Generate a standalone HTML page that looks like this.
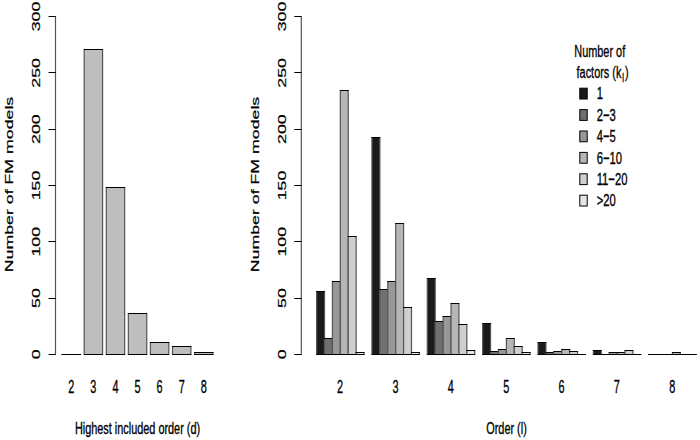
<!DOCTYPE html>
<html><head><meta charset="utf-8"><style>
html,body{margin:0;padding:0;background:#fff;}
svg{display:block;}
text{font-family:"Liberation Sans",sans-serif;fill:#000;stroke:#000;stroke-width:0.35px;}
</style></head><body>
<svg width="700" height="440" viewBox="0 0 700 440">
<rect x="0" y="0" width="700" height="440" fill="#fff"/>
<path d="M55.5 16.5V354.5" stroke="#555" stroke-width="1.2" fill="none"/>
<path d="M48.5 354.50H55.8" stroke="#000" stroke-width="1" fill="none"/>
<text class="r" transform="translate(39.70,354.40) rotate(-90) scale(1,0.59)" text-anchor="middle" font-size="17.75">0</text>
<path d="M48.5 298.50H55.8" stroke="#000" stroke-width="1" fill="none"/>
<text class="r" transform="translate(39.70,298.08) rotate(-90) scale(1,0.59)" text-anchor="middle" font-size="17.75">50</text>
<path d="M48.5 241.50H55.8" stroke="#000" stroke-width="1" fill="none"/>
<text class="r" transform="translate(39.70,241.77) rotate(-90) scale(1,0.59)" text-anchor="middle" font-size="17.75">100</text>
<path d="M48.5 185.50H55.8" stroke="#000" stroke-width="1" fill="none"/>
<text class="r" transform="translate(39.70,185.45) rotate(-90) scale(1,0.59)" text-anchor="middle" font-size="17.75">150</text>
<path d="M48.5 129.50H55.8" stroke="#000" stroke-width="1" fill="none"/>
<text class="r" transform="translate(39.70,129.13) rotate(-90) scale(1,0.59)" text-anchor="middle" font-size="17.75">200</text>
<path d="M48.5 72.50H55.8" stroke="#000" stroke-width="1" fill="none"/>
<text class="r" transform="translate(39.70,72.82) rotate(-90) scale(1,0.59)" text-anchor="middle" font-size="17.75">250</text>
<path d="M48.5 16.50H55.8" stroke="#000" stroke-width="1" fill="none"/>
<text class="r" transform="translate(39.70,16.50) rotate(-90) scale(1,0.59)" text-anchor="middle" font-size="17.75">300</text>
<text class="r" transform="translate(13.20,184.5) rotate(-90) scale(1,0.59)" text-anchor="middle" font-size="17.75">Number of FM models</text>
<path d="M301.3 16.5V354.5" stroke="#555" stroke-width="1.2" fill="none"/>
<path d="M294.3 354.50H301.6" stroke="#000" stroke-width="1" fill="none"/>
<text class="r" transform="translate(285.50,354.40) rotate(-90) scale(1,0.59)" text-anchor="middle" font-size="17.75">0</text>
<path d="M294.3 298.50H301.6" stroke="#000" stroke-width="1" fill="none"/>
<text class="r" transform="translate(285.50,298.08) rotate(-90) scale(1,0.59)" text-anchor="middle" font-size="17.75">50</text>
<path d="M294.3 241.50H301.6" stroke="#000" stroke-width="1" fill="none"/>
<text class="r" transform="translate(285.50,241.77) rotate(-90) scale(1,0.59)" text-anchor="middle" font-size="17.75">100</text>
<path d="M294.3 185.50H301.6" stroke="#000" stroke-width="1" fill="none"/>
<text class="r" transform="translate(285.50,185.45) rotate(-90) scale(1,0.59)" text-anchor="middle" font-size="17.75">150</text>
<path d="M294.3 129.50H301.6" stroke="#000" stroke-width="1" fill="none"/>
<text class="r" transform="translate(285.50,129.13) rotate(-90) scale(1,0.59)" text-anchor="middle" font-size="17.75">200</text>
<path d="M294.3 72.50H301.6" stroke="#000" stroke-width="1" fill="none"/>
<text class="r" transform="translate(285.50,72.82) rotate(-90) scale(1,0.59)" text-anchor="middle" font-size="17.75">250</text>
<path d="M294.3 16.50H301.6" stroke="#000" stroke-width="1" fill="none"/>
<text class="r" transform="translate(285.50,16.50) rotate(-90) scale(1,0.59)" text-anchor="middle" font-size="17.75">300</text>
<text class="r" transform="translate(259.00,184.5) rotate(-90) scale(1,0.59)" text-anchor="middle" font-size="17.75">Number of FM models</text>
<path d="M61.60 354.50H81.00M61.60 354.50H81.00" stroke="#000" stroke-width="1" fill="none"/>
<text transform="translate(71.30,392.5) scale(0.6193,1)" text-anchor="middle" font-size="17.6">2</text>
<rect x="84.18" y="49.50" width="18.40" height="305.00" fill="#bebebe"/>
<path d="M84.18 49.50V354.50M102.58 49.50V354.50" stroke="#555" stroke-width="1.2" fill="none"/>
<path d="M83.68 49.50H103.08M83.68 354.50H103.08" stroke="#000" stroke-width="1" fill="none"/>
<text transform="translate(93.38,392.5) scale(0.6193,1)" text-anchor="middle" font-size="17.6">3</text>
<rect x="106.26" y="187.50" width="18.40" height="167.00" fill="#bebebe"/>
<path d="M106.26 187.50V354.50M124.66 187.50V354.50" stroke="#555" stroke-width="1.2" fill="none"/>
<path d="M105.76 187.50H125.16M105.76 354.50H125.16" stroke="#000" stroke-width="1" fill="none"/>
<text transform="translate(115.46,392.5) scale(0.6193,1)" text-anchor="middle" font-size="17.6">4</text>
<rect x="128.34" y="313.50" width="18.40" height="41.00" fill="#bebebe"/>
<path d="M128.34 313.50V354.50M146.74 313.50V354.50" stroke="#555" stroke-width="1.2" fill="none"/>
<path d="M127.84 313.50H147.24M127.84 354.50H147.24" stroke="#000" stroke-width="1" fill="none"/>
<text transform="translate(137.54,392.5) scale(0.6193,1)" text-anchor="middle" font-size="17.6">5</text>
<rect x="150.42" y="342.50" width="18.40" height="12.00" fill="#bebebe"/>
<path d="M150.42 342.50V354.50M168.82 342.50V354.50" stroke="#555" stroke-width="1.2" fill="none"/>
<path d="M149.92 342.50H169.32M149.92 354.50H169.32" stroke="#000" stroke-width="1" fill="none"/>
<text transform="translate(159.62,392.5) scale(0.6193,1)" text-anchor="middle" font-size="17.6">6</text>
<rect x="172.50" y="346.50" width="18.40" height="8.00" fill="#bebebe"/>
<path d="M172.50 346.50V354.50M190.90 346.50V354.50" stroke="#555" stroke-width="1.2" fill="none"/>
<path d="M172.00 346.50H191.40M172.00 354.50H191.40" stroke="#000" stroke-width="1" fill="none"/>
<text transform="translate(181.70,392.5) scale(0.6193,1)" text-anchor="middle" font-size="17.6">7</text>
<rect x="194.58" y="352.50" width="18.40" height="2.00" fill="#bebebe"/>
<path d="M194.58 352.50V354.50M212.98 352.50V354.50" stroke="#555" stroke-width="1.2" fill="none"/>
<path d="M194.08 352.50H213.48M194.08 354.50H213.48" stroke="#000" stroke-width="1" fill="none"/>
<text transform="translate(203.78,392.5) scale(0.6193,1)" text-anchor="middle" font-size="17.6">8</text>
<text transform="translate(137.5,434.2) scale(0.63,1)" text-anchor="middle" font-size="17.3">Highest included order (d)</text>
<rect x="316.60" y="291.50" width="7.91" height="63.00" fill="#1a1a1a"/>
<path d="M316.60 291.50V354.50M324.51 291.50V354.50" stroke="#555" stroke-width="1.2" fill="none"/>
<path d="M316.10 291.50H325.01M316.10 354.50H325.01" stroke="#000" stroke-width="1" fill="none"/>
<rect x="324.51" y="338.50" width="7.91" height="16.00" fill="#707070"/>
<path d="M324.51 338.50V354.50M332.42 338.50V354.50" stroke="#555" stroke-width="1.2" fill="none"/>
<path d="M324.01 338.50H332.92M324.01 354.50H332.92" stroke="#000" stroke-width="1" fill="none"/>
<rect x="332.42" y="281.50" width="7.91" height="73.00" fill="#989898"/>
<path d="M332.42 281.50V354.50M340.33 281.50V354.50" stroke="#555" stroke-width="1.2" fill="none"/>
<path d="M331.92 281.50H340.83M331.92 354.50H340.83" stroke="#000" stroke-width="1" fill="none"/>
<rect x="340.33" y="90.50" width="7.91" height="264.00" fill="#b6b6b6"/>
<path d="M340.33 90.50V354.50M348.24 90.50V354.50" stroke="#555" stroke-width="1.2" fill="none"/>
<path d="M339.83 90.50H348.74M339.83 354.50H348.74" stroke="#000" stroke-width="1" fill="none"/>
<rect x="348.24" y="236.50" width="7.91" height="118.00" fill="#cfcfcf"/>
<path d="M348.24 236.50V354.50M356.15 236.50V354.50" stroke="#555" stroke-width="1.2" fill="none"/>
<path d="M347.74 236.50H356.65M347.74 354.50H356.65" stroke="#000" stroke-width="1" fill="none"/>
<rect x="356.15" y="352.50" width="7.91" height="2.00" fill="#e6e6e6"/>
<path d="M356.15 352.50V354.50M364.06 352.50V354.50" stroke="#555" stroke-width="1.2" fill="none"/>
<path d="M355.65 352.50H364.56M355.65 354.50H364.56" stroke="#000" stroke-width="1" fill="none"/>
<text transform="translate(340.13,392.5) scale(0.6193,1)" text-anchor="middle" font-size="17.6">2</text>
<rect x="371.95" y="137.50" width="7.91" height="217.00" fill="#1a1a1a"/>
<path d="M371.95 137.50V354.50M379.86 137.50V354.50" stroke="#555" stroke-width="1.2" fill="none"/>
<path d="M371.45 137.50H380.36M371.45 354.50H380.36" stroke="#000" stroke-width="1" fill="none"/>
<rect x="379.86" y="289.50" width="7.91" height="65.00" fill="#707070"/>
<path d="M379.86 289.50V354.50M387.77 289.50V354.50" stroke="#555" stroke-width="1.2" fill="none"/>
<path d="M379.36 289.50H388.27M379.36 354.50H388.27" stroke="#000" stroke-width="1" fill="none"/>
<rect x="387.77" y="281.50" width="7.91" height="73.00" fill="#989898"/>
<path d="M387.77 281.50V354.50M395.68 281.50V354.50" stroke="#555" stroke-width="1.2" fill="none"/>
<path d="M387.27 281.50H396.18M387.27 354.50H396.18" stroke="#000" stroke-width="1" fill="none"/>
<rect x="395.68" y="223.50" width="7.91" height="131.00" fill="#b6b6b6"/>
<path d="M395.68 223.50V354.50M403.59 223.50V354.50" stroke="#555" stroke-width="1.2" fill="none"/>
<path d="M395.18 223.50H404.09M395.18 354.50H404.09" stroke="#000" stroke-width="1" fill="none"/>
<rect x="403.59" y="307.50" width="7.91" height="47.00" fill="#cfcfcf"/>
<path d="M403.59 307.50V354.50M411.50 307.50V354.50" stroke="#555" stroke-width="1.2" fill="none"/>
<path d="M403.09 307.50H412.00M403.09 354.50H412.00" stroke="#000" stroke-width="1" fill="none"/>
<rect x="411.50" y="352.50" width="7.91" height="2.00" fill="#e6e6e6"/>
<path d="M411.50 352.50V354.50M419.41 352.50V354.50" stroke="#555" stroke-width="1.2" fill="none"/>
<path d="M411.00 352.50H419.91M411.00 354.50H419.91" stroke="#000" stroke-width="1" fill="none"/>
<text transform="translate(395.48,392.5) scale(0.6193,1)" text-anchor="middle" font-size="17.6">3</text>
<rect x="427.30" y="278.50" width="7.91" height="76.00" fill="#1a1a1a"/>
<path d="M427.30 278.50V354.50M435.21 278.50V354.50" stroke="#555" stroke-width="1.2" fill="none"/>
<path d="M426.80 278.50H435.71M426.80 354.50H435.71" stroke="#000" stroke-width="1" fill="none"/>
<rect x="435.21" y="321.50" width="7.91" height="33.00" fill="#707070"/>
<path d="M435.21 321.50V354.50M443.12 321.50V354.50" stroke="#555" stroke-width="1.2" fill="none"/>
<path d="M434.71 321.50H443.62M434.71 354.50H443.62" stroke="#000" stroke-width="1" fill="none"/>
<rect x="443.12" y="316.50" width="7.91" height="38.00" fill="#989898"/>
<path d="M443.12 316.50V354.50M451.03 316.50V354.50" stroke="#555" stroke-width="1.2" fill="none"/>
<path d="M442.62 316.50H451.53M442.62 354.50H451.53" stroke="#000" stroke-width="1" fill="none"/>
<rect x="451.03" y="303.50" width="7.91" height="51.00" fill="#b6b6b6"/>
<path d="M451.03 303.50V354.50M458.94 303.50V354.50" stroke="#555" stroke-width="1.2" fill="none"/>
<path d="M450.53 303.50H459.44M450.53 354.50H459.44" stroke="#000" stroke-width="1" fill="none"/>
<rect x="458.94" y="324.50" width="7.91" height="30.00" fill="#cfcfcf"/>
<path d="M458.94 324.50V354.50M466.85 324.50V354.50" stroke="#555" stroke-width="1.2" fill="none"/>
<path d="M458.44 324.50H467.35M458.44 354.50H467.35" stroke="#000" stroke-width="1" fill="none"/>
<rect x="466.85" y="350.50" width="7.91" height="4.00" fill="#e6e6e6"/>
<path d="M466.85 350.50V354.50M474.76 350.50V354.50" stroke="#555" stroke-width="1.2" fill="none"/>
<path d="M466.35 350.50H475.26M466.35 354.50H475.26" stroke="#000" stroke-width="1" fill="none"/>
<text transform="translate(450.83,392.5) scale(0.6193,1)" text-anchor="middle" font-size="17.6">4</text>
<rect x="482.65" y="323.50" width="7.91" height="31.00" fill="#1a1a1a"/>
<path d="M482.65 323.50V354.50M490.56 323.50V354.50" stroke="#555" stroke-width="1.2" fill="none"/>
<path d="M482.15 323.50H491.06M482.15 354.50H491.06" stroke="#000" stroke-width="1" fill="none"/>
<rect x="490.56" y="351.50" width="7.91" height="3.00" fill="#707070"/>
<path d="M490.56 351.50V354.50M498.47 351.50V354.50" stroke="#555" stroke-width="1.2" fill="none"/>
<path d="M490.06 351.50H498.97M490.06 354.50H498.97" stroke="#000" stroke-width="1" fill="none"/>
<rect x="498.47" y="349.50" width="7.91" height="5.00" fill="#989898"/>
<path d="M498.47 349.50V354.50M506.38 349.50V354.50" stroke="#555" stroke-width="1.2" fill="none"/>
<path d="M497.97 349.50H506.88M497.97 354.50H506.88" stroke="#000" stroke-width="1" fill="none"/>
<rect x="506.38" y="338.50" width="7.91" height="16.00" fill="#b6b6b6"/>
<path d="M506.38 338.50V354.50M514.29 338.50V354.50" stroke="#555" stroke-width="1.2" fill="none"/>
<path d="M505.88 338.50H514.79M505.88 354.50H514.79" stroke="#000" stroke-width="1" fill="none"/>
<rect x="514.29" y="346.50" width="7.91" height="8.00" fill="#cfcfcf"/>
<path d="M514.29 346.50V354.50M522.20 346.50V354.50" stroke="#555" stroke-width="1.2" fill="none"/>
<path d="M513.79 346.50H522.70M513.79 354.50H522.70" stroke="#000" stroke-width="1" fill="none"/>
<rect x="522.20" y="352.50" width="7.91" height="2.00" fill="#e6e6e6"/>
<path d="M522.20 352.50V354.50M530.11 352.50V354.50" stroke="#555" stroke-width="1.2" fill="none"/>
<path d="M521.70 352.50H530.61M521.70 354.50H530.61" stroke="#000" stroke-width="1" fill="none"/>
<text transform="translate(506.18,392.5) scale(0.6193,1)" text-anchor="middle" font-size="17.6">5</text>
<rect x="538.00" y="342.50" width="7.91" height="12.00" fill="#1a1a1a"/>
<path d="M538.00 342.50V354.50M545.91 342.50V354.50" stroke="#555" stroke-width="1.2" fill="none"/>
<path d="M537.50 342.50H546.41M537.50 354.50H546.41" stroke="#000" stroke-width="1" fill="none"/>
<rect x="545.91" y="352.50" width="7.91" height="2.00" fill="#707070"/>
<path d="M545.91 352.50V354.50M553.82 352.50V354.50" stroke="#555" stroke-width="1.2" fill="none"/>
<path d="M545.41 352.50H554.32M545.41 354.50H554.32" stroke="#000" stroke-width="1" fill="none"/>
<rect x="553.82" y="351.50" width="7.91" height="3.00" fill="#989898"/>
<path d="M553.82 351.50V354.50M561.73 351.50V354.50" stroke="#555" stroke-width="1.2" fill="none"/>
<path d="M553.32 351.50H562.23M553.32 354.50H562.23" stroke="#000" stroke-width="1" fill="none"/>
<rect x="561.73" y="349.50" width="7.91" height="5.00" fill="#b6b6b6"/>
<path d="M561.73 349.50V354.50M569.64 349.50V354.50" stroke="#555" stroke-width="1.2" fill="none"/>
<path d="M561.23 349.50H570.14M561.23 354.50H570.14" stroke="#000" stroke-width="1" fill="none"/>
<rect x="569.64" y="351.50" width="7.91" height="3.00" fill="#cfcfcf"/>
<path d="M569.64 351.50V354.50M577.55 351.50V354.50" stroke="#555" stroke-width="1.2" fill="none"/>
<path d="M569.14 351.50H578.05M569.14 354.50H578.05" stroke="#000" stroke-width="1" fill="none"/>
<path d="M577.05 354.50H585.96M577.05 354.50H585.96" stroke="#000" stroke-width="1" fill="none"/>
<text transform="translate(561.53,392.5) scale(0.6193,1)" text-anchor="middle" font-size="17.6">6</text>
<rect x="593.35" y="350.50" width="7.91" height="4.00" fill="#1a1a1a"/>
<path d="M593.35 350.50V354.50M601.26 350.50V354.50" stroke="#555" stroke-width="1.2" fill="none"/>
<path d="M592.85 350.50H601.76M592.85 354.50H601.76" stroke="#000" stroke-width="1" fill="none"/>
<path d="M600.76 354.50H609.67M600.76 354.50H609.67" stroke="#000" stroke-width="1" fill="none"/>
<rect x="609.17" y="352.50" width="7.91" height="2.00" fill="#989898"/>
<path d="M609.17 352.50V354.50M617.08 352.50V354.50" stroke="#555" stroke-width="1.2" fill="none"/>
<path d="M608.67 352.50H617.58M608.67 354.50H617.58" stroke="#000" stroke-width="1" fill="none"/>
<rect x="617.08" y="352.50" width="7.91" height="2.00" fill="#b6b6b6"/>
<path d="M617.08 352.50V354.50M624.99 352.50V354.50" stroke="#555" stroke-width="1.2" fill="none"/>
<path d="M616.58 352.50H625.49M616.58 354.50H625.49" stroke="#000" stroke-width="1" fill="none"/>
<rect x="624.99" y="350.50" width="7.91" height="4.00" fill="#cfcfcf"/>
<path d="M624.99 350.50V354.50M632.90 350.50V354.50" stroke="#555" stroke-width="1.2" fill="none"/>
<path d="M624.49 350.50H633.40M624.49 354.50H633.40" stroke="#000" stroke-width="1" fill="none"/>
<path d="M632.40 354.50H641.31M632.40 354.50H641.31" stroke="#000" stroke-width="1" fill="none"/>
<text transform="translate(616.88,392.5) scale(0.6193,1)" text-anchor="middle" font-size="17.6">7</text>
<path d="M648.20 354.50H657.11M648.20 354.50H657.11" stroke="#000" stroke-width="1" fill="none"/>
<path d="M656.11 354.50H665.02M656.11 354.50H665.02" stroke="#000" stroke-width="1" fill="none"/>
<path d="M664.02 354.50H672.93M664.02 354.50H672.93" stroke="#000" stroke-width="1" fill="none"/>
<rect x="672.43" y="352.50" width="7.91" height="2.00" fill="#b6b6b6"/>
<path d="M672.43 352.50V354.50M680.34 352.50V354.50" stroke="#555" stroke-width="1.2" fill="none"/>
<path d="M671.93 352.50H680.84M671.93 354.50H680.84" stroke="#000" stroke-width="1" fill="none"/>
<path d="M679.84 354.50H688.75M679.84 354.50H688.75" stroke="#000" stroke-width="1" fill="none"/>
<path d="M687.75 354.50H696.66M687.75 354.50H696.66" stroke="#000" stroke-width="1" fill="none"/>
<text transform="translate(672.23,392.5) scale(0.6193,1)" text-anchor="middle" font-size="17.6">8</text>
<text transform="translate(506.5,434.2) scale(0.63,1)" text-anchor="middle" font-size="17.3">Order (l)</text>
<text transform="translate(599.75,56.8) scale(0.63,1)" text-anchor="middle" font-size="17.3">Number of</text>
<text transform="translate(602.6,78.0) scale(0.63,1)" text-anchor="middle" font-size="17.3">factors (k<tspan font-size="12.5" dx="1.5" dy="4">l</tspan><tspan dx="1.5" dy="-4">)</tspan></text>
<rect x="579.8" y="88.20" width="7.4" height="10.8" fill="#1a1a1a" stroke="#000" stroke-width="1"/>
<text transform="translate(596.7,99.30) scale(0.65,1)" font-size="17.3">1</text>
<rect x="579.8" y="109.60" width="7.4" height="10.8" fill="#707070" stroke="#000" stroke-width="1"/>
<text transform="translate(596.7,120.70) scale(0.65,1)" font-size="17.3">2−3</text>
<rect x="579.8" y="131.00" width="7.4" height="10.8" fill="#989898" stroke="#000" stroke-width="1"/>
<text transform="translate(596.7,142.10) scale(0.65,1)" font-size="17.3">4−5</text>
<rect x="579.8" y="152.40" width="7.4" height="10.8" fill="#b6b6b6" stroke="#000" stroke-width="1"/>
<text transform="translate(596.7,163.50) scale(0.65,1)" font-size="17.3">6−10</text>
<rect x="579.8" y="173.80" width="7.4" height="10.8" fill="#cfcfcf" stroke="#000" stroke-width="1"/>
<text transform="translate(596.7,184.90) scale(0.65,1)" font-size="17.3">11−20</text>
<rect x="579.8" y="195.20" width="7.4" height="10.8" fill="#e6e6e6" stroke="#000" stroke-width="1"/>
<text transform="translate(596.7,206.30) scale(0.65,1)" font-size="17.3">&gt;20</text>
</svg>
</body></html>
